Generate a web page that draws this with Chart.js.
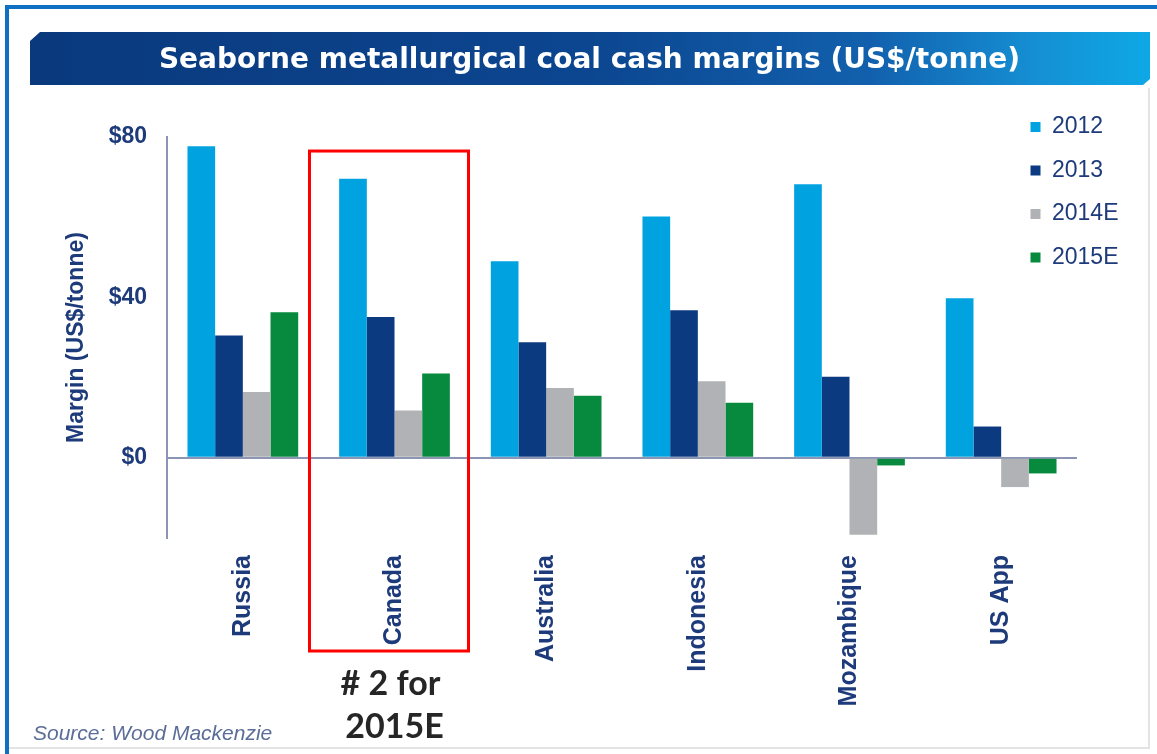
<!DOCTYPE html>
<html>
<head>
<meta charset="utf-8">
<title>Seaborne metallurgical coal cash margins</title>
<script src="https://cdn.jsdelivr.net/npm/chart.js@4.4.1/dist/chart.umd.min.js"></script>
<style>
    html, body { margin: 0; padding: 0; background: #fff; }
    canvas { display: block; }
</style>
</head>
<body>
<canvas id="margins" width="1157" height="754"></canvas>
<script>
// cash margins, US$ per tonne
const categories = ['Russia', 'Canada', 'Australia', 'Indonesia', 'Mozambique', 'US App'];
const margin2012 = [77.7, 69.6, 49.0, 60.2, 68.2, 39.8];
const margin2013 = [30.5, 35.1, 28.8, 36.8, 20.2, 7.8];
const margin2014E = [16.4, 11.8, 17.4, 19.1, -19.2, -7.3];
const margin2015E = [36.3, 21.0, 15.5, 13.7, -1.9, -3.9];
const yTicks = [0, 40, 80];

const navy = '#1d3a7a';
Chart.defaults.font.family = "'Liberation Sans', Arial, sans-serif";

// white page, blue frame and the title banner
const frame = {
    id: 'frame',
    beforeDraw(chart) {
        const ctx = chart.ctx;
        ctx.save();
        ctx.fillStyle = '#fff';
        ctx.fillRect(0, 0, chart.width, chart.height);

        ctx.strokeStyle = '#e3e3e3';
        ctx.lineWidth = 2;
        ctx.beginPath();
        ctx.moveTo(1149, 88);
        ctx.lineTo(1149, 748);
        ctx.lineTo(9, 748);
        ctx.stroke();

        ctx.fillStyle = '#0e6fc3';
        ctx.fillRect(5, 5, chart.width - 5, 4);
        ctx.fillRect(5, 5, 4, chart.height - 5);

        const g = ctx.createLinearGradient(30, 0, 1150, 0);
        g.addColorStop(0, '#0a397d');
        g.addColorStop(0.5, '#0c4690');
        g.addColorStop(0.75, '#1260ad');
        g.addColorStop(0.9, '#1590d4');
        g.addColorStop(1, '#0ea8e6');
        ctx.fillStyle = g;
        ctx.beginPath();
        ctx.moveTo(30, 41);
        ctx.lineTo(40, 32);
        ctx.lineTo(1150, 32);
        ctx.lineTo(1150, 79);
        ctx.lineTo(1143, 85);
        ctx.lineTo(30, 85);
        ctx.closePath();
        ctx.fill();
        ctx.restore();
    }
};

// red box round Canada, the note under it and the source line
const callout = {
    id: 'callout',
    afterLayout(chart) {
        const t = chart.titleBlock;
        t.left += 51;
        t.right += 51;
        const lg = chart.legend;
        lg.left = 1010;
        lg.right = lg.left + lg.width;
        lg.top = 95;
        lg.bottom = lg.top + lg.height;
    },
    afterDraw(chart) {
        const {ctx, scales: {x, y}} = chart;
        const cx = x.getPixelForValue(1);
        const top = y.getPixelForValue(76.5);
        ctx.save();
        ctx.strokeStyle = '#ff0000';
        ctx.lineWidth = 3;
        ctx.strokeRect(cx - 85, top, 159, 651 - top);

        ctx.fillStyle = '#262626';
        ctx.font = 'bold 34px Lato';
        ctx.textAlign = 'center';
        ctx.textBaseline = 'middle';
        ctx.fillText('# 2 for', cx - 4, 684);
        ctx.fillText('2015E', cx, 727);

        ctx.fillStyle = '#5b6d98';
        ctx.font = "italic 21px 'Liberation Sans'";
        ctx.textAlign = 'left';
        ctx.fillText('Source: Wood Mackenzie', 33, 734);
        ctx.restore();
    }
};

new Chart(document.getElementById('margins'), {
    type: 'bar',
    data: {
        labels: categories,
        datasets: [
            {label: '2012', data: margin2012, backgroundColor: '#00a3e0'},
            {label: '2013', data: margin2013, backgroundColor: '#0b3a80'},
            {label: '2014E', data: margin2014E, backgroundColor: '#b1b2b5'},
            {label: '2015E', data: margin2015E, backgroundColor: '#078a3e'}
        ]
    },
    options: {
        responsive: false,
        animation: false,
        layout: {padding: {left: 0, right: 80, top: 0, bottom: 0}},
        datasets: {bar: {barPercentage: 1, categoryPercentage: 0.73}},
        plugins: {
            title: {
                display: true,
                text: 'Seaborne metallurgical coal cash margins (US$/tonne)',
                color: '#fff',
                font: {family: "'DejaVu Sans'", size: 28, weight: 'bold'},
                padding: {top: 44, bottom: 59.4}
            },
            legend: {
                position: 'chartArea',
                align: 'start',
                labels: {
                    boxWidth: 10,
                    boxHeight: 10,
                    padding: 20.5,
                    color: navy,
                    font: {size: 23}
                }
            },
            tooltip: {enabled: false}
        },
        scales: {
            x: {
                grid: {display: false},
                border: {display: false},
                ticks: {
                    minRotation: 90,
                    maxRotation: 90,
                    padding: 9,
                    color: navy,
                    font: {size: 25, weight: 'bold'}
                },
                afterFit(scale) {
                    scale.height = 216;
                }
            },
            y: {
                min: -20,
                max: 80,
                afterBuildTicks(scale) {
                    scale.ticks = yTicks.map(v => ({value: v}));
                },
                grid: {
                    drawTicks: false,
                    lineWidth: 2,
                    color: c => c.tick && c.tick.value === 0 ? '#8c96b4' : 'rgba(0,0,0,0)'
                },
                border: {color: '#8c96b4', width: 2},
                ticks: {
                    padding: 20,
                    color: navy,
                    font: {size: 23, weight: 'bold'},
                    callback: v => '$' + v
                },
                title: {
                    display: true,
                    text: 'Margin (US$/tonne)',
                    color: navy,
                    font: {size: 23, weight: 'bold'},
                    padding: {top: 63, bottom: 0}
                },
                afterFit(scale) {
                    scale.width = 167;
                }
            }
        }
    },
    plugins: [frame, callout]
});
</script>
</body>
</html>
